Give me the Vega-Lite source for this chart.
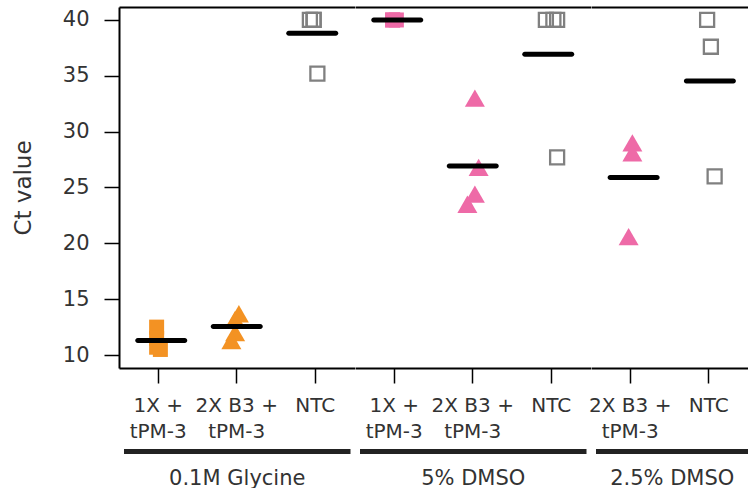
{
  "$schema": "https://vega.github.io/schema/vega-lite/v6.json",
  "padding": {"left": 12, "top": 7, "right": 0, "bottom": 0},
  "bounds": "flush",
  "spacing": 0,
  "config": {
    "view": {"stroke": null},
    "font": "DejaVu Sans",
    "axis": {"grid": false}
  },
  "data": {
    "values": [
      {"group": "0.1M Glycine", "cond": "1X + tPM-3", "kind": "mix", "rep": 2, "ct": 12.5},
      {"group": "0.1M Glycine", "cond": "1X + tPM-3", "kind": "mix", "rep": 2, "ct": 11.5},
      {"group": "0.1M Glycine", "cond": "1X + tPM-3", "kind": "mix", "rep": 2, "ct": 10.7},
      {"group": "0.1M Glycine", "cond": "1X + tPM-3", "kind": "mix", "rep": 3, "ct": 10.5},
      {"group": "0.1M Glycine", "cond": "2X B3 + tPM-3", "kind": "b3", "rep": 3, "ct": 13.7},
      {"group": "0.1M Glycine", "cond": "2X B3 + tPM-3", "kind": "b3", "rep": 2, "ct": 13.2},
      {"group": "0.1M Glycine", "cond": "2X B3 + tPM-3", "kind": "b3", "rep": 2, "ct": 12.0},
      {"group": "0.1M Glycine", "cond": "2X B3 + tPM-3", "kind": "b3", "rep": 1, "ct": 11.3},
      {"group": "0.1M Glycine", "cond": "NTC", "kind": "ntc", "rep": 1, "ct": 40},
      {"group": "0.1M Glycine", "cond": "NTC", "kind": "ntc", "rep": 2, "ct": 40},
      {"group": "0.1M Glycine", "cond": "NTC", "kind": "ntc", "rep": 2, "ct": 40},
      {"group": "0.1M Glycine", "cond": "NTC", "kind": "ntc", "rep": 3, "ct": 35.2},
      {"group": "5% DMSO", "cond": "1X + tPM-3", "kind": "mix", "rep": 2, "ct": 40},
      {"group": "5% DMSO", "cond": "1X + tPM-3", "kind": "mix", "rep": 3, "ct": 40},
      {"group": "5% DMSO", "cond": "1X + tPM-3", "kind": "mix", "rep": 2, "ct": 40},
      {"group": "5% DMSO", "cond": "2X B3 + tPM-3", "kind": "b3", "rep": 3, "ct": 33.0},
      {"group": "5% DMSO", "cond": "2X B3 + tPM-3", "kind": "b3", "rep": 4, "ct": 26.8},
      {"group": "5% DMSO", "cond": "2X B3 + tPM-3", "kind": "b3", "rep": 3, "ct": 24.4},
      {"group": "5% DMSO", "cond": "2X B3 + tPM-3", "kind": "b3", "rep": 1, "ct": 23.5},
      {"group": "5% DMSO", "cond": "NTC", "kind": "ntc", "rep": 1, "ct": 40},
      {"group": "5% DMSO", "cond": "NTC", "kind": "ntc", "rep": 3, "ct": 40},
      {"group": "5% DMSO", "cond": "NTC", "kind": "ntc", "rep": 4, "ct": 40},
      {"group": "5% DMSO", "cond": "NTC", "kind": "ntc", "rep": 4, "ct": 27.7},
      {"group": "2.5% DMSO", "cond": "2X B3 + tPM-3", "kind": "b3", "rep": 3, "ct": 29.0},
      {"group": "2.5% DMSO", "cond": "2X B3 + tPM-3", "kind": "b3", "rep": 3, "ct": 28.1},
      {"group": "2.5% DMSO", "cond": "2X B3 + tPM-3", "kind": "b3", "rep": 2, "ct": 20.6},
      {"group": "2.5% DMSO", "cond": "NTC", "kind": "ntc", "rep": 2, "ct": 40},
      {"group": "2.5% DMSO", "cond": "NTC", "kind": "ntc", "rep": 3, "ct": 37.6},
      {"group": "2.5% DMSO", "cond": "NTC", "kind": "ntc", "rep": 4, "ct": 26.0}
    ]
  },
  "resolve": {"scale": {"x": "independent", "y": "independent"}, "axis": {"x": "independent", "y": "independent"}},
  "hconcat": [
    {
      "width": 235.5, "height": 361,
      "transform": [{"filter": "datum.group == '0.1M Glycine'"}],
      "encoding": {
        "y": {"field": "ct", "type": "quantitative",
          "scale": {"domain": [8.84, 41.16], "nice": false, "zero": false},
          "axis": {"orient": "left", "title": "Ct value", "values": [10, 15, 20, 25, 30, 35, 40],
            "domainColor": "black", "domainWidth": 2, "tickColor": "black", "tickWidth": 1.5, "tickSize": 15,
            "labelFontSize": 21, "labelColor": "#333333", "labelPadding": 15,
            "titleFontSize": 23, "titleFontWeight": "normal", "titleColor": "#333333", "titlePadding": 27}}
      },
      "layer": [
        {
          "transform": [{"filter": "datum.kind != 'ntc'"}],
          "mark": {"type": "point", "filled": true, "opacity": 1},
          "encoding": {
            "x": {"field": "cond", "type": "nominal", "title": null,
              "scale": {"domain": ["1X + tPM-3", "2X B3 + tPM-3", "NTC"], "paddingInner": 0, "paddingOuter": 0},
              "axis": {"orient": "bottom", "labelAngle": 0, "domainColor": "black", "domainWidth": 2,
                "tickColor": "black", "tickWidth": 1.5, "tickSize": 15, "labelFontSize": 20, "labelColor": "#333333",
                "labelPadding": 12, "labelBaseline": "top", "labelLineHeight": 26,
                "labelExpr": "indexof(datum.value, ' + ') > 0 ? [slice(datum.value, 0, indexof(datum.value, ' + ') + 2), slice(datum.value, indexof(datum.value, ' + ') + 3)] : datum.value"}},
            "xOffset": {"field": "rep", "type": "nominal", "scale": {"type": "point", "domain": [1, 2, 3, 4], "range": [32, 47]}},
            "shape": {"field": "kind", "type": "nominal", "scale": {"domain": ["mix", "b3"], "range": ["square", "triangle-up"]}, "legend": null},
            "size": {"field": "kind", "type": "nominal", "scale": {"domain": ["mix", "b3"], "range": [225, 400]}, "legend": null},
            "color": {"field": "group", "type": "nominal", "scale": {"domain": ["0.1M Glycine", "5% DMSO", "2.5% DMSO"], "range": ["#F39223", "#EE6AA7", "#EE6AA7"]}, "legend": null}
          }
        },
        {
          "transform": [{"filter": "datum.kind == 'ntc'"}],
          "mark": {"type": "point", "shape": "square", "filled": false, "stroke": "#808080", "strokeWidth": 2.3, "size": 196, "opacity": 1},
          "encoding": {
            "x": {"field": "cond", "type": "nominal", "title": null,
              "scale": {"domain": ["1X + tPM-3", "2X B3 + tPM-3", "NTC"], "paddingInner": 0, "paddingOuter": 0},
              "axis": {"orient": "top", "labels": false, "ticks": false, "domainColor": "black", "domainWidth": 2}},
            "xOffset": {"field": "rep", "type": "nominal", "scale": {"type": "point", "domain": [1, 2, 3, 4], "range": [32, 47]}}
          }
        },
        {
          "mark": {"type": "tick", "color": "black", "size": 52, "thickness": 5, "cornerRadius": 2.5, "opacity": 1},
          "encoding": {
            "x": {"field": "cond", "type": "nominal",
              "scale": {"domain": ["1X + tPM-3", "2X B3 + tPM-3", "NTC"], "range": [4.5, 231], "paddingInner": 0, "paddingOuter": -0.0573},
              "axis": {"orient": "bottom", "offset": 83, "labels": false, "ticks": false, "domainColor": "#222222", "domainWidth": 5,
                "title": "0.1M Glycine", "titleFontSize": 21, "titleFontWeight": "normal", "titleColor": "#333333", "titlePadding": 16}},
            "y": {"aggregate": "mean", "field": "ct", "type": "quantitative"}
          }
        }
      ],
      "resolve": {"scale": {"x": "independent"}, "axis": {"x": "independent"}}
    },
    {
      "width": 235.5, "height": 361,
      "transform": [{"filter": "datum.group == '5% DMSO'"}],
      "encoding": {
        "y": {"field": "ct", "type": "quantitative",
          "scale": {"domain": [8.84, 41.16], "nice": false, "zero": false}, "axis": null}
      },
      "layer": [
        {
          "transform": [{"filter": "datum.kind != 'ntc'"}],
          "mark": {"type": "point", "filled": true, "opacity": 1},
          "encoding": {
            "x": {"field": "cond", "type": "nominal", "title": null,
              "scale": {"domain": ["1X + tPM-3", "2X B3 + tPM-3", "NTC"], "paddingInner": 0, "paddingOuter": 0},
              "axis": {"orient": "bottom", "labelAngle": 0, "domainColor": "black", "domainWidth": 2,
                "tickColor": "black", "tickWidth": 1.5, "tickSize": 15, "labelFontSize": 20, "labelColor": "#333333",
                "labelPadding": 12, "labelBaseline": "top", "labelLineHeight": 26,
                "labelExpr": "indexof(datum.value, ' + ') > 0 ? [slice(datum.value, 0, indexof(datum.value, ' + ') + 2), slice(datum.value, indexof(datum.value, ' + ') + 3)] : datum.value"}},
            "xOffset": {"field": "rep", "type": "nominal", "scale": {"type": "point", "domain": [1, 2, 3, 4], "range": [32, 47]}},
            "shape": {"field": "kind", "type": "nominal", "scale": {"domain": ["mix", "b3"], "range": ["square", "triangle-up"]}, "legend": null},
            "size": {"field": "kind", "type": "nominal", "scale": {"domain": ["mix", "b3"], "range": [225, 400]}, "legend": null},
            "color": {"field": "group", "type": "nominal", "scale": {"domain": ["0.1M Glycine", "5% DMSO", "2.5% DMSO"], "range": ["#F39223", "#EE6AA7", "#EE6AA7"]}, "legend": null}
          }
        },
        {
          "transform": [{"filter": "datum.kind == 'ntc'"}],
          "mark": {"type": "point", "shape": "square", "filled": false, "stroke": "#808080", "strokeWidth": 2.3, "size": 196, "opacity": 1},
          "encoding": {
            "x": {"field": "cond", "type": "nominal", "title": null,
              "scale": {"domain": ["1X + tPM-3", "2X B3 + tPM-3", "NTC"], "paddingInner": 0, "paddingOuter": 0},
              "axis": {"orient": "top", "labels": false, "ticks": false, "domainColor": "black", "domainWidth": 2}},
            "xOffset": {"field": "rep", "type": "nominal", "scale": {"type": "point", "domain": [1, 2, 3, 4], "range": [32, 47]}}
          }
        },
        {
          "mark": {"type": "tick", "color": "black", "size": 52, "thickness": 5, "cornerRadius": 2.5, "opacity": 1},
          "encoding": {
            "x": {"field": "cond", "type": "nominal",
              "scale": {"domain": ["1X + tPM-3", "2X B3 + tPM-3", "NTC"], "range": [4.5, 231], "paddingInner": 0, "paddingOuter": -0.0573},
              "axis": {"orient": "bottom", "offset": 83, "labels": false, "ticks": false, "domainColor": "#222222", "domainWidth": 5,
                "title": "5% DMSO", "titleFontSize": 21, "titleFontWeight": "normal", "titleColor": "#333333", "titlePadding": 16}},
            "y": {"aggregate": "mean", "field": "ct", "type": "quantitative"}
          }
        }
      ],
      "resolve": {"scale": {"x": "independent"}, "axis": {"x": "independent"}}
    },
    {
      "width": 157, "height": 361,
      "transform": [{"filter": "datum.group == '2.5% DMSO'"}],
      "encoding": {
        "y": {"field": "ct", "type": "quantitative",
          "scale": {"domain": [8.84, 41.16], "nice": false, "zero": false}, "axis": null}
      },
      "layer": [
        {
          "transform": [{"filter": "datum.kind != 'ntc'"}],
          "mark": {"type": "point", "filled": true, "opacity": 1},
          "encoding": {
            "x": {"field": "cond", "type": "nominal", "title": null,
              "scale": {"domain": ["2X B3 + tPM-3", "NTC"], "paddingInner": 0, "paddingOuter": 0},
              "axis": {"orient": "bottom", "labelAngle": 0, "domainColor": "black", "domainWidth": 2,
                "tickColor": "black", "tickWidth": 1.5, "tickSize": 15, "labelFontSize": 20, "labelColor": "#333333",
                "labelPadding": 12, "labelBaseline": "top", "labelLineHeight": 26,
                "labelExpr": "indexof(datum.value, ' + ') > 0 ? [slice(datum.value, 0, indexof(datum.value, ' + ') + 2), slice(datum.value, indexof(datum.value, ' + ') + 3)] : datum.value"}},
            "xOffset": {"field": "rep", "type": "nominal", "scale": {"type": "point", "domain": [1, 2, 3, 4], "range": [32, 47]}},
            "shape": {"field": "kind", "type": "nominal", "scale": {"domain": ["mix", "b3"], "range": ["square", "triangle-up"]}, "legend": null},
            "size": {"field": "kind", "type": "nominal", "scale": {"domain": ["mix", "b3"], "range": [225, 400]}, "legend": null},
            "color": {"field": "group", "type": "nominal", "scale": {"domain": ["0.1M Glycine", "5% DMSO", "2.5% DMSO"], "range": ["#F39223", "#EE6AA7", "#EE6AA7"]}, "legend": null}
          }
        },
        {
          "transform": [{"filter": "datum.kind == 'ntc'"}],
          "mark": {"type": "point", "shape": "square", "filled": false, "stroke": "#808080", "strokeWidth": 2.3, "size": 196, "opacity": 1},
          "encoding": {
            "x": {"field": "cond", "type": "nominal", "title": null,
              "scale": {"domain": ["2X B3 + tPM-3", "NTC"], "paddingInner": 0, "paddingOuter": 0},
              "axis": {"orient": "top", "labels": false, "ticks": false, "domainColor": "black", "domainWidth": 2}},
            "xOffset": {"field": "rep", "type": "nominal", "scale": {"type": "point", "domain": [1, 2, 3, 4], "range": [32, 47]}}
          }
        },
        {
          "mark": {"type": "tick", "color": "black", "size": 52, "thickness": 5, "cornerRadius": 2.5, "opacity": 1},
          "encoding": {
            "x": {"field": "cond", "type": "nominal",
              "scale": {"domain": ["2X B3 + tPM-3", "NTC"], "range": [4.5, 157], "paddingInner": 0, "paddingOuter": -0.02866, "align": 1},
              "axis": {"orient": "bottom", "offset": 83, "labels": false, "ticks": false, "domainColor": "#222222", "domainWidth": 5,
                "title": "2.5% DMSO", "titleFontSize": 21, "titleFontWeight": "normal", "titleColor": "#333333", "titlePadding": 16}},
            "y": {"aggregate": "mean", "field": "ct", "type": "quantitative"}
          }
        }
      ],
      "resolve": {"scale": {"x": "independent"}, "axis": {"x": "independent"}}
    }
  ]
}
